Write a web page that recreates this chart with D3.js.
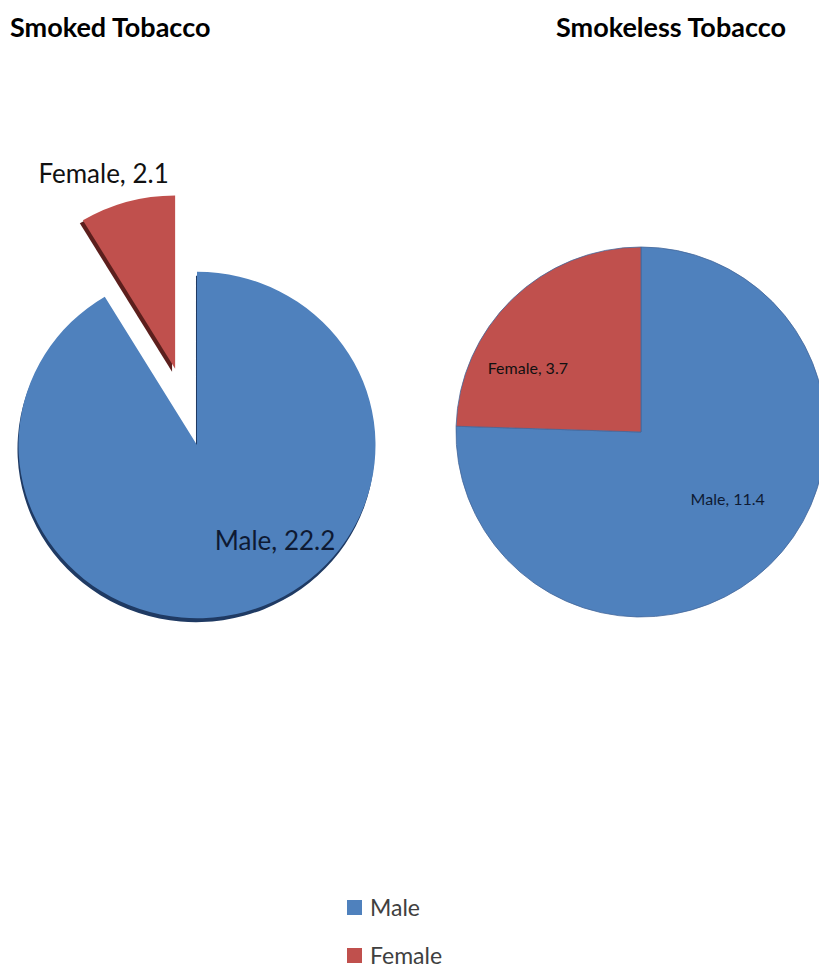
<!DOCTYPE html>
<html>
<head>
<meta charset="utf-8">
<script src="https://cdn.jsdelivr.net/npm/d3@7"></script>
<style>
  body { margin: 0; background: #fff; }
  svg { display: block; }
</style>
</head>
<body>
<svg id="chart" width="819" height="968"></svg>
<script>
const categories = ["Male", "Female"];
const smokedValues = [22.2, 2.1];
const smokelessValues = [11.4, 3.7];
const pieTitles = ["Smoked Tobacco", "Smokeless Tobacco"];

const colors = { Male: "#4F81BD", Female: "#C0504D" };
const shadowColors = { Male: "#1F3A63", Female: "#5C1F1D" };

const svg = d3.select("#chart");
const color = d3.scaleOrdinal().domain(categories).range([colors.Male, colors.Female]);
const pie = d3.pie().sort(null).value((d) => d.value);

// layout per pie: centre, radius, exploded slice, label placement (angle deg, distance px)
const pies = [
  {
    title: pieTitles[0], titleX: 10, values: smokedValues,
    cx: 197, cy: 445, r: 175, sx: 1.02, sy: 0.99,
    explode: { Female: 80 }, shadow: true,
    labels: { Male: [141, 124], Female: [-19, 287] }, fontSize: 26
  },
  {
    title: pieTitles[1], titleX: 556, values: smokelessValues,
    cx: 641, cy: 432, r: 185, sx: 1, sy: 1,
    explode: {}, shadow: false,
    labels: { Male: [128, 110], Female: [-60.5, 130] }, fontSize: 16
  }
];

pies.forEach((p) => {
  svg.append("text")
    .attr("x", p.titleX).attr("y", 37)
    .attr("font-family", "Lato, 'Open Sans', sans-serif")
    .attr("font-weight", "700")
    .attr("font-size", "27px")
    .attr("fill", "#000")
    .text(p.title);

  const data = categories.map((c, i) => ({ name: c, value: p.values[i] }));
  const arcs = pie(data);
  const arc = d3.arc().innerRadius(0).outerRadius(p.r);

  const g = svg.append("g")
    .attr("transform", `translate(${p.cx},${p.cy}) scale(${p.sx},${p.sy})`);

  const offset = (d) => {
    const dist = p.explode[d.data.name] || 0;
    const mid = (d.startAngle + d.endAngle) / 2;
    return [Math.sin(mid) * dist, -Math.cos(mid) * dist];
  };

  if (p.shadow) {
    g.selectAll("path.shadow").data(arcs).join("path")
      .attr("class", "shadow")
      .attr("d", arc)
      .attr("fill", (d) => shadowColors[d.data.name])
      .attr("transform", (d) => {
        const [ox, oy] = offset(d);
        const dx = d.data.name === "Female" ? -3 : -1;
        const dy = d.data.name === "Female" ? 3 : 4;
        return `translate(${ox + dx},${oy + dy})`;
      });
  }

  g.selectAll("path.slice").data(arcs).join("path")
    .attr("class", "slice")
    .attr("d", arc)
    .attr("fill", (d) => color(d.data.name))
    .attr("stroke", p.shadow ? "none" : "#44679a")
    .attr("stroke-width", 0.8)
    .attr("transform", (d) => {
      const [ox, oy] = offset(d);
      return `translate(${ox},${oy})`;
    });

  svg.selectAll(null).data(arcs).join("text")
    .attr("x", (d) => p.cx + Math.sin(p.labels[d.data.name][0] * Math.PI / 180) * p.labels[d.data.name][1])
    .attr("y", (d) => p.cy - Math.cos(p.labels[d.data.name][0] * Math.PI / 180) * p.labels[d.data.name][1])
    .attr("text-anchor", "middle")
    .attr("dy", "0.35em")
    .attr("font-family", "Lato, 'Open Sans', sans-serif")
    .attr("font-size", p.fontSize + "px")
    .attr("fill", (d) => d.data.name === "Male" ? "#0e1a33" : "#111")
    .text((d) => `${d.data.name}, ${d.data.value}`);
});

// legend
const legend = svg.append("g").attr("transform", "translate(347,900)");
const legendItems = legend.selectAll("g").data(categories).join("g")
  .attr("transform", (d, i) => `translate(0,${i * 48})`);

legendItems.append("rect")
  .attr("width", 15).attr("height", 15)
  .attr("fill", (d) => color(d));

legendItems.append("text")
  .attr("x", 23).attr("y", 8).attr("dy", "0.35em")
  .attr("font-family", "Lato, 'Open Sans', sans-serif")
  .attr("font-size", "23px")
  .attr("fill", "#404040")
  .text((d) => d);
</script>
</body>
</html>
